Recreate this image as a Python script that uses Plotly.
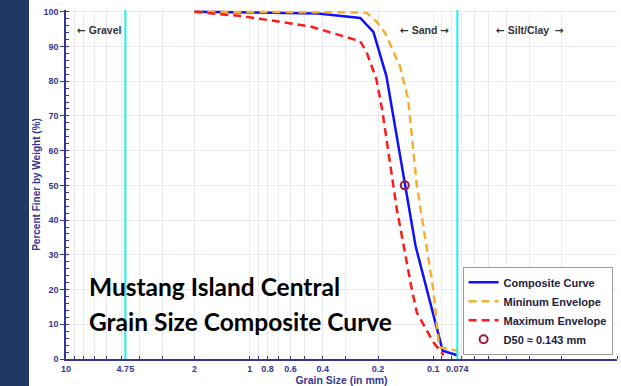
import numpy as np
import plotly.graph_objects as go

# ---------------- data ----------------
comp_size = [2, 0.85, 0.425, 0.25, 0.212, 0.18, 0.165, 0.125, 0.089, 0.074]
comp_pct = [100, 99.8, 99.5, 98.2, 94.2, 81.4, 70.0, 32.6, 2.4, 1.1]

min_size = [2, 0.425, 0.25, 0.23, 0.204, 0.183, 0.152, 0.137, 0.123, 0.1, 0.093, 0.074]
min_pct = [100, 100, 99.8, 99.6, 97.2, 93.9, 84.3, 74.7, 50.0, 20.0, 3.4, 2.4]

max_size = [2, 1.09, 0.47, 0.3, 0.25, 0.23, 0.204, 0.19, 0.158, 0.131, 0.123, 0.1, 0.088]
max_pct = [100, 98.7, 95.8, 92.9, 91.5, 88.1, 80.5, 71.8, 43.1, 20.1, 13.4, 4.8, 1.1]

d50_size = [0.143]
d50_pct = [50]

boundaries = [4.75, 0.074]

x_tick_vals = [10, 4.75, 2, 1, 0.8, 0.6, 0.4, 0.2, 0.1, 0.074, 0.01]
x_tick_text = ["10", "4.75", "2", "1", "0.8", "0.6", "0.4", "0.2", "0.1", "0.074", "0.01"]

LA = "<span style='font-family:DejaVu Sans'>\u2190</span>"
RA = "<span style='font-family:DejaVu Sans'>\u2192</span>"
region_labels = [LA + " Gravel", LA + " Sand " + RA, LA + " Silt/Clay  " + RA]
region_x = [6.6, 0.112, 0.0297]

# ---------------- styling ----------------
NAVY = "#36368e"
minor_vals = [m * 10.0 ** k for k in (0, -1, -2) for m in range(1, 10)] + [0.01]

fig = go.Figure()
fig.add_trace(go.Scatter(x=comp_size, y=comp_pct, mode="lines", name="Composite Curve",
                         line=dict(color="#1010ff", width=2.5)))
fig.add_trace(go.Scatter(x=min_size, y=min_pct, mode="lines", name="Mininum Envelope",
                         line=dict(color="#f4b02f", width=2.5, dash="8px,5px")))
fig.add_trace(go.Scatter(x=max_size, y=max_pct, mode="lines", name="Maximum Envelope",
                         line=dict(color="#ff1a1a", width=2.5, dash="8px,5px")))
fig.add_trace(go.Scatter(x=d50_size, y=d50_pct, mode="markers", name="D50 \u2248 0.143 mm",
                         marker=dict(symbol="circle-open", size=8, color="#9b1d3c",
                                     line=dict(width=2, color="#9b1d3c"))))

for b in boundaries:
    fig.add_trace(go.Scatter(x=[b, b], y=[0, 100.5], mode="lines", showlegend=False,
                             hoverinfo="skip", line=dict(color="#19f0f0", width=2)))

for txt, xv in zip(region_labels, region_x):
    fig.add_annotation(x=np.log10(xv), y=94.8, xref="x", yref="y", text=txt, showarrow=False,
                       font=dict(family="Liberation Sans", size=10.5, color="#333333", weight="bold"))

fig.add_annotation(x=0.038, y=0.207, xref="paper", yref="paper", xanchor="left", yanchor="middle",
                   text="Mustang Island Central", showarrow=False,
                   font=dict(family="Lato", size=24.5, color="black", weight="bold"))
fig.add_annotation(x=0.038, y=0.107, xref="paper", yref="paper", xanchor="left", yanchor="middle",
                   text="Grain Size Composite Curve", showarrow=False,
                   font=dict(family="Lato", size=24.5, color="black", weight="bold"))

# dark slide band on the left
fig.add_shape(type="rect", xref="paper", yref="paper", x0=-0.2, x1=(29 - 66) / 551,
              y0=-0.2, y1=1.2, fillcolor="#1f3864", line=dict(width=0), layer="below")

fig.update_layout(
    width=621, height=386,
    margin=dict(l=66, r=4, t=10, b=27),
    paper_bgcolor="white", plot_bgcolor="white",
    showlegend=True,
    legend=dict(x=0.992, y=0.012, xanchor="right", yanchor="bottom",
                bgcolor="white", bordercolor="#9a9a9a", borderwidth=1,
                font=dict(family="Liberation Sans", size=11, color="#1c1c3c", weight="bold"),
                itemwidth=30, tracegroupgap=0),
    xaxis=dict(type="log", range=[1, -2], tickmode="array", tickvals=x_tick_vals,
               ticktext=x_tick_text, showgrid=False, ticks="", showline=True,
               linecolor=NAVY, linewidth=1.5, zeroline=False,
               tickfont=dict(family="Liberation Sans", size=9, color=NAVY, weight="bold"),
               title=dict(text="Grain Size (in mm)", standoff=2,
                          font=dict(family="Liberation Sans", size=10.5, color=NAVY, weight="bold")),
               minor=dict(tickmode="array", tickvals=minor_vals, showgrid=True,
                          gridcolor="#e9e9f1", gridwidth=1, ticks="inside", ticklen=3,
                          tickcolor=NAVY)),
    yaxis=dict(range=[0, 100.5], tickmode="array", tickvals=list(range(0, 101, 10)),
               showgrid=True, gridcolor="#e9e9f1", gridwidth=1,
               ticks="outside", ticklen=4, tickcolor=NAVY, showline=True,
               linecolor=NAVY, linewidth=1.5, zeroline=False,
               tickfont=dict(family="Liberation Sans", size=9, color=NAVY, weight="bold"),
               title=dict(text="Percent Finer by Weight (%)", standoff=1,
                          font=dict(family="Liberation Sans", size=10, color=NAVY, weight="bold")),
               minor=dict(dtick=2, ticks="inside", ticklen=3, tickcolor=NAVY, showgrid=False)),
)

fig.write_html("out.html", config={"displayModeBar": False},
               post_script="document.body.style.margin='0px';")
